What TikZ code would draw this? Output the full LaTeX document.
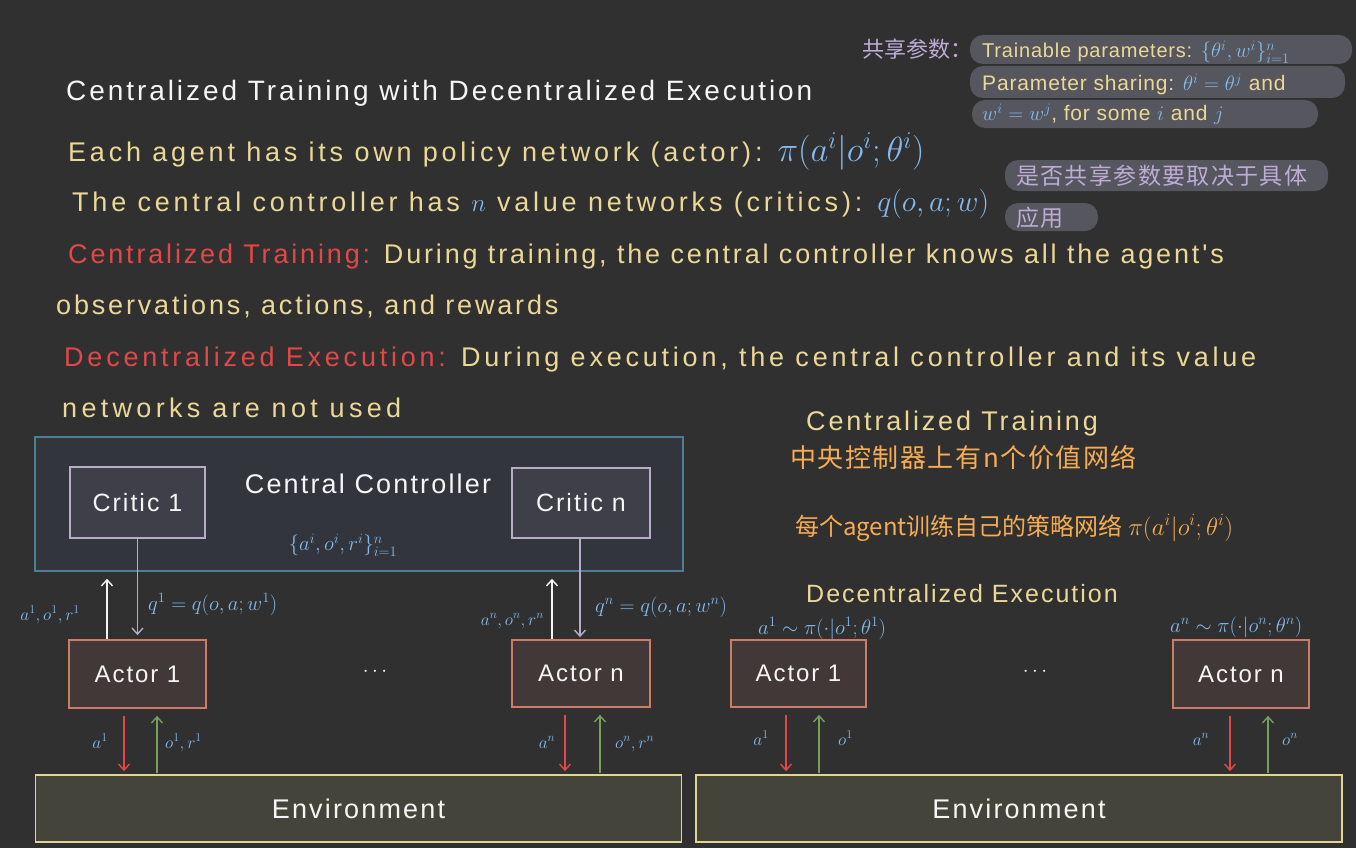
\documentclass[tikz,border=0pt]{standalone}
\usepackage{fontspec}
\setmainfont{Liberation Sans}
\newfontfamily\handA[LetterSpace=8]{Liberation Sans}
\newfontfamily\handB[LetterSpace=10.5]{Liberation Sans}
\newfontfamily\handC[LetterSpace=14]{Liberation Sans}
\newfontfamily\handD[LetterSpace=16]{Liberation Sans}
\newfontfamily\handS[LetterSpace=4]{Liberation Sans}
\newfontfamily\cjk{Noto Sans CJK SC}
\newfontfamily\cjkW[LetterSpace=6]{Noto Sans CJK SC}
\usetikzlibrary{arrows.meta}
\definecolor{bg}{RGB}{48,48,48}
\definecolor{cwhite}{RGB}{245,245,245}
\definecolor{cyel}{RGB}{236,216,150}
\definecolor{cred}{RGB}{226,72,72}
\definecolor{cblue}{RGB}{132,186,236}
\definecolor{corange}{RGB}{246,172,82}
\definecolor{clav}{RGB}{190,172,214}
\definecolor{pill}{RGB}{86,86,94}
\definecolor{ccborder}{RGB}{78,128,148}
\definecolor{ccfill}{RGB}{50,54,60}
\definecolor{critborder}{RGB}{184,172,200}
\definecolor{critfill}{RGB}{62,63,72}
\definecolor{actborder}{RGB}{206,124,104}
\definecolor{actfill}{RGB}{66,56,56}
\definecolor{envborder}{RGB}{224,214,146}
\definecolor{envfill}{RGB}{68,68,58}
\definecolor{cgreen}{RGB}{120,160,90}
\newcommand{\bigmath}[2][1.2]{\scalebox{#1}{#2}}
\begin{document}
\begin{tikzpicture}[x=1pt,y=-1pt,
  txt/.style={inner sep=0pt, anchor=base west},
  lbl/.style={inner sep=0pt, text=cblue, font=\fontsize{18}{22}\selectfont},
  pillbox/.style={fill=pill, rounded corners=13pt},
  ccbox/.style={draw=ccborder, fill=ccfill, line width=1.6pt, minimum width=648pt, minimum height=134pt},
  critbox/.style={draw=critborder, fill=critfill, line width=1.8pt, text=cwhite, font=\handA\fontsize{25}{30}\selectfont},
  actbox/.style={draw=actborder, fill=actfill, line width=1.8pt, text=cwhite, font=\handA\fontsize{24}{28}\selectfont},
  envbox/.style={draw=envborder, fill=envfill, line width=1.8pt, text=cwhite, font=\handA\fontsize{27}{32}\selectfont, minimum width=646pt, minimum height=67pt},
  arr/.style={line width=1.6pt, -{Straight Barb[length=6pt,width=11pt,line width=1.4pt]}},
  dots/.style={text=cwhite, font=\fontsize{22}{26}\selectfont, inner sep=0pt}
]
\fill[bg] (0,0) rectangle (1356,848);
\useasboundingbox (0,0) rectangle (1356,848);

% ---------- top-right notes ----------
\fill[pillbox] (970,35) rectangle (1352,64);
\fill[pillbox] (970,66) rectangle (1345,98);
\fill[pillbox] (972,100) rectangle (1318,128);
\fill[pillbox] (1005,160) rectangle (1328,191);
\fill[pillbox] (1005,203) rectangle (1098,231);

\node[txt, text=clav, font=\cjk\fontsize{22}{26}\selectfont] (share) at (862,58) {共享参数：};
\node[txt, text=cyel, font=\handS\fontsize{20}{24}\selectfont] (n1) at (982,58) {Trainable parameters: \textcolor{cblue}{$\{\theta^i, w^i\}_{i=1}^n$}};
\node[txt, text=cyel, font=\handS\fontsize{21}{24}\selectfont] (n2) at (982,91) {Parameter sharing: \textcolor{cblue}{$\theta^i=\theta^j$} and};
\node[txt, text=cyel, font=\handS\fontsize{21}{24}\selectfont] (n3) at (982,121) {\textcolor{cblue}{$w^i=w^j$}, for some \textcolor{cblue}{$i$} and \textcolor{cblue}{$j$}};
\node[txt, text=clav, font=\cjkW\fontsize{23}{26}\selectfont] (n4) at (1016,184) {是否共享参数要取决于具体};
\node[txt, text=clav, font=\cjkW\fontsize{23}{26}\selectfont] (n5) at (1016,226) {应用};

% ---------- main text ----------
\node[txt, font=\handB\fontsize{28}{32}\selectfont, text=cwhite] (title) at (66,101) {Centralized Training with Decentralized Execution};
\node[txt, text=cyel, font=\handC\fontsize{27}{32}\selectfont] (l1) at (68,161) {Each agent has its own policy network (actor): \textcolor{cblue}{\bigmath[1.4]{$\pi(a^i|o^i;\theta^i)$}}};
\node[txt, text=cyel, font=\handC\fontsize{27}{32}\selectfont] (l2) at (72,211) {The central controller has \textcolor{cblue}{$n$} value networks (critics): \textcolor{cblue}{\bigmath{$q(o,a;w)$}}};
\node[txt, text=cyel, font=\handB\fontsize{27}{32}\selectfont] (l3) at (68,263) {\textcolor{cred}{Centralized Training:} During training, the central controller knows all the agent's};
\node[txt, text=cyel, font=\handB\fontsize{27}{32}\selectfont] (l4) at (56,314) {observations, actions, and rewards};
\node[txt, text=cyel, font=\handC\fontsize{27}{32}\selectfont] (l5) at (64,366) {\textcolor{cred}{Decentralized Execution:} During execution, the central controller and its value};
\node[txt, text=cyel, font=\handD\fontsize{27}{32}\selectfont] (l6) at (62,417) {networks are not used};

% ---------- right notes ----------
\node[txt, text=cyel, font=\handB\fontsize{27}{32}\selectfont] (r1) at (806,430) {Centralized Training};
\node[txt, text=corange, font=\cjkW\fontsize{26}{30}\selectfont] (r2) at (790,467) {中央控制器上有n个价值网络};
\node[txt, text=corange, font=\cjk\fontsize{24}{28}\selectfont] (r3) at (795,535) {每个agent训练自己的策略网络 $\pi(a^i|o^i;\theta^i)$};
\node[txt, text=cyel, font=\handA\fontsize{25}{30}\selectfont] (r4) at (806,602) {Decentralized Execution};

% ---------- left diagram ----------
\node[ccbox] (cc) at (359,504) {};
\node[text=cwhite, font=\handA\fontsize{27}{32}\selectfont, inner sep=0pt] (cclabel) at (368,484) {Central Controller};
\node[lbl, font=\fontsize{21}{24}\selectfont] (set) at (343,545) {$\{a^i, o^i, r^i\}_{i=1}^n$};
\node[critbox, minimum width=135pt, minimum height=71pt] (c1) at (137.5,502.5) {Critic 1};
\node[critbox, minimum width=138pt, minimum height=70pt] (cn) at (581,503) {Critic n};
\node[actbox, minimum width=137pt, minimum height=68pt] (a1) at (137.5,674) {Actor 1};
\node[actbox, minimum width=138pt, minimum height=67pt] (an) at (581,673.5) {Actor n};
\node[dots] (d1) at (375,672) {$\cdots$};
\node[envbox] (e1) at (358.5,808.5) {Environment};

\draw[arr, cwhite, shorten >=7pt] ([xshift=-30.5pt]a1.north) -- ([xshift=-30.5pt]a1.north |- cc.south);
\draw[arr, critborder, shorten >=4pt] (c1.south) -- (a1.north);
\draw[arr, cwhite, shorten >=7pt] ([xshift=-29pt]an.north) -- ([xshift=-29pt]an.north |- cc.south);
\draw[arr, critborder, shorten >=2pt] ([xshift=-1pt]cn.south) -- ([xshift=-1pt]an.north);
\node[lbl, anchor=base east] (l_a1) at (80,620) {$a^1,o^1,r^1$};
\node[lbl, anchor=base west, font=\fontsize{21}{24}\selectfont] (l_q1) at (148,610) {$q^1=q(o,a;w^1)$};
\node[lbl, anchor=base east] (l_an) at (544,625) {$a^n,o^n,r^n$};
\node[lbl, anchor=base west, font=\fontsize{21}{24}\selectfont] (l_qn) at (595,612) {$q^n=q(o,a;w^n)$};

\draw[arr, cred, shorten <=7pt, shorten >=3pt] ([xshift=-13.5pt]a1.south) -- ([xshift=-13.5pt]a1.south |- e1.north);
\draw[arr, cgreen, shorten <=1pt, shorten >=7pt] ([xshift=19.5pt]a1.south |- e1.north) -- ([xshift=19.5pt]a1.south);
\draw[arr, cred, shorten <=7pt, shorten >=3pt] ([xshift=-16pt]an.south) -- ([xshift=-16pt]an.south |- e1.north);
\draw[arr, cgreen, shorten <=1pt, shorten >=7pt] ([xshift=19pt]an.south |- e1.north) -- ([xshift=19pt]an.south);
\node[lbl, anchor=base] (l_a1e) at (100,748) {$a^1$};
\node[lbl, anchor=base west] (l_o1e) at (165,748) {$o^1,r^1$};
\node[lbl, anchor=base] (l_ane) at (547,748) {$a^n$};
\node[lbl, anchor=base west] (l_one) at (615,748) {$o^n,r^n$};

% ---------- right diagram ----------
\node[actbox, minimum width=135pt, minimum height=67pt] (ra1) at (798.5,673.5) {Actor 1};
\node[actbox, minimum width=136pt, minimum height=68pt] (ran) at (1241,674) {Actor n};
\node[dots] (d2) at (1035,672) {$\cdots$};
\node[envbox] (e2) at (1019,808.5) {Environment};
\node[lbl, anchor=base west, font=\fontsize{22}{26}\selectfont] (pi1) at (758,634) {$a^1\sim\pi(\cdot|o^1;\theta^1)$};
\node[lbl, anchor=base west, font=\fontsize{22}{26}\selectfont] (pin) at (1170,632) {$a^n\sim\pi(\cdot|o^n;\theta^n)$};

\draw[arr, cred, shorten <=7pt, shorten >=3pt] ([xshift=-12.5pt]ra1.south) -- ([xshift=-12.5pt]ra1.south |- e2.north);
\draw[arr, cgreen, shorten <=1pt, shorten >=7pt] ([xshift=20.5pt]ra1.south |- e2.north) -- ([xshift=20.5pt]ra1.south);
\draw[arr, cred, shorten <=7pt, shorten >=3pt] ([xshift=-11pt]ran.south) -- ([xshift=-11pt]ran.south |- e2.north);
\draw[arr, cgreen, shorten <=1pt, shorten >=7pt] ([xshift=27pt]ran.south |- e2.north) -- ([xshift=27pt]ran.south);
\node[lbl, anchor=base] (r_a1e) at (761,745) {$a^1$};
\node[lbl, anchor=base west] (r_o1e) at (838,745) {$o^1$};
\node[lbl, anchor=base] (r_ane) at (1201,745) {$a^n$};
\node[lbl, anchor=base west] (r_one) at (1282,745) {$o^n$};
\end{tikzpicture}
\end{document}
